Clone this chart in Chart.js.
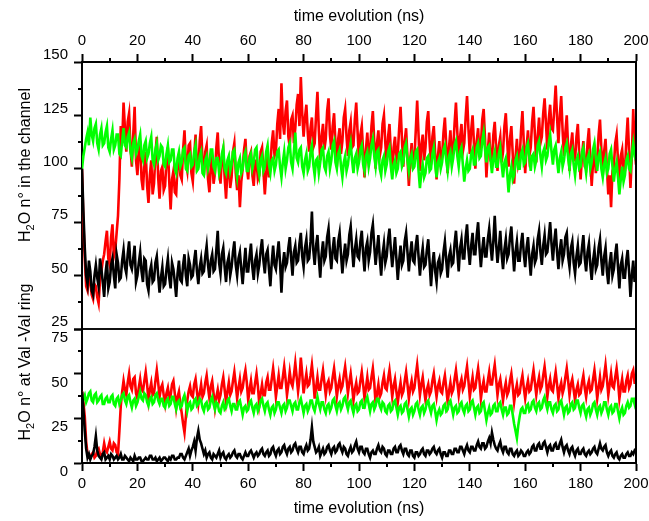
<!DOCTYPE html>
<html>
<head>
<meta charset="utf-8">
<script src="https://cdn.jsdelivr.net/npm/chart.js@4.4.1/dist/chart.umd.min.js"></script>
<style>
  body { margin: 0; background: #fff; }
  #wrap { position: relative; width: 649px; height: 521px; }
  canvas { position: absolute; left: 0; }
  #topChart { top: 0; }
  #botChart { top: 270px; }
</style>
</head>
<body>
<div id="wrap">
  <canvas id="topChart" width="649" height="335"></canvas>
  <canvas id="botChart" width="649" height="251"></canvas>
</div>
<script>
// one sample every 0.5 ns, t = 0..200
var STEP_NS = 0.5;
var xTicks = [0, 20, 40, 60, 80, 100, 120, 140, 160, 180, 200];

// H2O in the channel (top panel)
var channelBlack = [
  100, 80, 63, 50, 46, 57, 52, 43, 41, 50, 55, 49, 45, 58, 53, 47, 40, 51, 57, 44,
  47, 55, 58, 50, 44, 60, 56, 48, 49, 57, 62, 54, 51, 60, 66, 55, 53, 58, 64, 47,
  50, 56, 61, 52, 47, 58, 57, 46, 43, 52, 55, 47, 48, 56, 59, 50, 42, 49, 54, 45,
  46, 53, 58, 49, 44, 56, 53, 47, 40, 51, 57, 48, 47, 55, 60, 50, 45, 58, 55, 49,
  50, 57, 62, 52, 46, 54, 58, 51, 52, 59, 64, 55, 49, 57, 60, 52, 53, 62, 71, 56,
  51, 60, 63, 54, 47, 56, 59, 50, 54, 61, 66, 55, 50, 58, 61, 53, 46, 55, 63, 52,
  52, 59, 65, 54, 48, 57, 60, 51, 55, 62, 67, 57, 51, 60, 62, 53, 45, 56, 64, 55,
  53, 60, 66, 56, 42, 55, 61, 54, 56, 63, 68, 58, 50, 61, 64, 56, 57, 65, 70, 59,
  54, 63, 67, 57, 58, 66, 80, 62, 55, 64, 69, 58, 49, 60, 66, 57, 59, 68, 72, 61,
  53, 62, 68, 58, 57, 66, 70, 60, 51, 59, 65, 57, 60, 69, 73, 63, 54, 62, 67, 59,
  58, 66, 71, 60, 52, 63, 66, 57, 61, 70, 74, 64, 55, 62, 69, 58, 50, 60, 65, 56,
  59, 67, 72, 62, 54, 61, 68, 58, 48, 57, 64, 55, 57, 66, 70, 61, 52, 60, 66, 57,
  56, 64, 69, 59, 50, 58, 63, 54, 55, 62, 67, 56, 45, 55, 61, 52, 47, 56, 58, 51,
  53, 61, 66, 57, 49, 59, 62, 55, 56, 65, 71, 61, 52, 63, 67, 58, 58, 68, 74, 62,
  55, 64, 70, 60, 60, 69, 75, 63, 54, 62, 68, 59, 59, 67, 72, 64, 57, 66, 78, 65,
  56, 63, 71, 60, 53, 62, 67, 58, 60, 68, 73, 62, 52, 61, 66, 57, 57, 65, 70, 60,
  54, 63, 68, 58, 50, 60, 64, 56, 58, 67, 71, 61, 55, 64, 69, 60, 61, 68, 75, 65,
  57, 66, 72, 61, 53, 62, 67, 57, 60, 68, 70, 59, 54, 63, 66, 56, 51, 59, 64, 55,
  56, 63, 69, 58, 52, 61, 65, 55, 48, 57, 62, 53, 55, 63, 67, 57, 50, 59, 63, 52,
  46, 56, 61, 50, 53, 60, 65, 54, 44, 55, 58, 49, 49, 57, 62, 52, 40, 50, 57, 47,
  52
];
var channelRed = [
  100, 75, 58, 45, 43, 50, 47, 41, 39, 46, 45, 40, 37, 48, 52, 57, 60, 66, 71, 58,
  55, 68, 74, 59, 62, 70, 78, 95, 120, 112, 131, 119, 108, 122, 126, 110, 101, 116, 129, 104,
  97, 108, 113, 95, 90, 102, 108, 92, 84, 97, 104, 88, 93, 107, 115, 96, 86, 99, 101, 90,
  92, 104, 110, 94, 81, 95, 99, 89, 88, 102, 107, 97, 95, 109, 118, 103, 99, 111, 112, 98,
  94, 106, 116, 100, 101, 113, 120, 104, 97, 108, 111, 95, 89, 101, 106, 93, 98, 110, 117, 102,
  93, 105, 109, 96, 86, 99, 103, 91, 96, 108, 112, 98, 90, 97, 82, 94, 100, 109, 114, 101,
  95, 106, 108, 97, 92, 103, 104, 95, 97, 108, 110, 99, 88, 98, 106, 96, 101, 112, 118, 106,
  108, 121, 128, 114, 140, 122, 116, 127, 132, 115, 110, 123, 125, 112, 119, 130, 135, 120, 143, 126,
  115, 124, 130, 117, 108, 119, 124, 110, 112, 125, 136, 118, 104, 115, 121, 109, 114, 127, 133, 116,
  109, 120, 126, 112, 101, 114, 119, 107, 113, 124, 128, 115, 106, 118, 122, 110, 111, 123, 131, 117,
  104, 116, 120, 108, 96, 109, 117, 105, 108, 120, 127, 113, 100, 112, 118, 106, 110, 121, 125, 112,
  103, 115, 121, 108, 98, 110, 115, 104, 107, 119, 129, 114, 101, 113, 119, 105, 92, 104, 112, 100,
  105, 118, 132, 116, 99, 111, 116, 104, 110, 122, 127, 112, 102, 115, 120, 107, 95, 106, 113, 101,
  106, 117, 124, 111, 98, 110, 118, 105, 109, 121, 131, 117, 103, 115, 121, 108, 112, 124, 134, 119,
  107, 118, 125, 112, 100, 113, 119, 106, 111, 123, 128, 114, 96, 108, 117, 104, 104, 116, 122, 110,
  99, 111, 115, 103, 108, 120, 126, 113, 101, 114, 120, 107, 93, 105, 114, 102, 105, 118, 127, 112,
  98, 110, 118, 106, 110, 122, 129, 116, 103, 115, 124, 112, 115, 126, 133, 121, 109, 123, 130, 119,
  118, 128, 139, 124, 112, 125, 134, 118, 106, 117, 125, 110, 99, 111, 117, 104, 104, 115, 121, 107,
  95, 106, 113, 101, 100, 112, 119, 105, 92, 103, 110, 98, 104, 116, 123, 109, 97, 108, 114, 100,
  88, 97, 82, 99, 101, 112, 116, 104, 94, 106, 109, 98, 99, 113, 124, 108, 91, 106, 128, 110,
  102
];
var channelGreen = [
  100, 106, 110, 114, 117, 111, 124, 116, 113, 119, 121, 112, 109, 116, 119, 111, 112, 117, 120, 110,
  108, 114, 118, 109, 111, 116, 116, 107, 106, 113, 119, 111, 110, 115, 117, 108, 105, 112, 114, 107,
  109, 113, 116, 106, 104, 111, 113, 105, 107, 112, 115, 104, 102, 109, 112, 104, 106, 111, 110, 102,
  101, 107, 111, 103, 104, 109, 109, 100, 98, 105, 108, 101, 103, 109, 110, 100, 99, 106, 107, 101,
  102, 108, 111, 99, 100, 106, 108, 98, 97, 104, 106, 100, 103, 109, 109, 101, 99, 105, 105, 98,
  101, 107, 110, 100, 98, 104, 106, 99, 102, 108, 109, 101, 96, 103, 105, 98, 100, 106, 108, 99,
  99, 105, 107, 100, 103, 109, 110, 101, 97, 104, 106, 99, 101, 108, 111, 102, 98, 104, 105, 99,
  102, 108, 109, 101, 96, 103, 108, 100, 104, 110, 112, 103, 100, 108, 117, 105, 103, 109, 110, 101,
  98, 104, 107, 99, 101, 108, 111, 102, 97, 104, 105, 98, 103, 109, 110, 101, 99, 106, 108, 100,
  104, 111, 113, 103, 100, 107, 109, 101, 96, 103, 106, 99, 102, 108, 112, 104, 98, 105, 107, 100,
  103, 109, 111, 102, 99, 106, 108, 101, 105, 111, 114, 106, 101, 108, 109, 100, 97, 104, 106, 99,
  102, 108, 110, 101, 95, 102, 104, 98, 100, 107, 108, 101, 103, 110, 112, 104, 99, 105, 107, 100,
  101, 108, 109, 99, 91, 98, 102, 96, 98, 105, 106, 99, 100, 107, 110, 102, 96, 103, 105, 100,
  103, 109, 111, 104, 99, 106, 108, 101, 105, 111, 113, 106, 101, 108, 110, 102, 94, 100, 104, 99,
  100, 107, 109, 102, 102, 110, 112, 105, 106, 113, 117, 109, 103, 110, 111, 104, 98, 105, 108, 101,
  101, 107, 110, 102, 96, 103, 105, 98, 89, 97, 101, 95, 97, 104, 106, 100, 100, 107, 109, 102,
  103, 110, 112, 105, 99, 106, 107, 101, 104, 111, 113, 106, 101, 108, 110, 104, 106, 112, 116, 108,
  102, 109, 111, 104, 98, 105, 108, 101, 104, 110, 112, 105, 100, 107, 109, 102, 97, 104, 106, 100,
  101, 108, 110, 103, 98, 105, 107, 100, 103, 109, 112, 105, 99, 106, 108, 100, 96, 102, 105, 98,
  100, 107, 109, 101, 94, 100, 103, 96, 88, 95, 101, 94, 97, 104, 106, 100, 99, 107, 112, 106,
  104
];

// H2O at the Val-Val ring (bottom panel)
var ringBlack = [
  40, 30, 18, 8, 3, 5, 2, 4, 5, 9, 15, 7, 4, 3, 2, 5, 6, 2, 3, 4,
  2, 5, 4, 2, 3, 4, 2, 3, 5, 2, 2, 4, 3, 2, 1, 3, 2, 1, 4, 2,
  2, 3, 3, 1, 1, 2, 3, 2, 2, 4, 4, 2, 2, 3, 1, 2, 3, 1, 2, 3,
  3, 2, 1, 3, 2, 4, 4, 2, 2, 3, 3, 5, 5, 3, 2, 4, 6, 8, 4, 7,
  9, 12, 7, 14, 18, 13, 11, 8, 5, 7, 3, 5, 6, 3, 2, 5, 4, 3, 5, 7,
  3, 5, 6, 3, 2, 4, 5, 3, 4, 6, 7, 4, 3, 5, 5, 3, 2, 4, 6, 4,
  4, 6, 7, 5, 3, 5, 6, 4, 5, 7, 8, 5, 4, 6, 7, 4, 5, 8, 9, 6,
  4, 7, 8, 5, 6, 9, 10, 7, 5, 8, 9, 6, 7, 10, 11, 8, 6, 9, 9, 6,
  5, 8, 10, 7, 8, 13, 20, 12, 9, 6, 7, 9, 4, 6, 8, 5, 6, 9, 10, 7,
  5, 8, 9, 6, 7, 10, 11, 8, 6, 9, 8, 5, 4, 7, 9, 6, 7, 10, 12, 8,
  6, 9, 9, 6, 5, 8, 8, 5, 3, 6, 7, 5, 5, 8, 10, 7, 6, 9, 8, 5,
  4, 7, 7, 5, 5, 8, 9, 6, 6, 9, 10, 7, 5, 8, 8, 5, 4, 7, 7, 4,
  3, 6, 6, 4, 5, 7, 8, 5, 4, 7, 7, 5, 6, 8, 9, 6, 5, 7, 8, 5,
  3, 6, 6, 4, 4, 7, 7, 5, 5, 8, 8, 6, 6, 9, 9, 7, 5, 8, 10, 7,
  6, 9, 9, 7, 7, 10, 12, 9, 8, 11, 11, 8, 9, 12, 14, 11, 17, 13, 10, 8,
  7, 10, 12, 8, 6, 9, 9, 6, 5, 8, 8, 5, 4, 6, 7, 4, 5, 7, 6, 4,
  4, 6, 7, 5, 6, 9, 10, 7, 7, 10, 11, 8, 8, 11, 12, 9, 6, 9, 10, 7,
  7, 10, 11, 8, 8, 11, 13, 9, 6, 9, 10, 7, 5, 8, 9, 6, 4, 7, 8, 5,
  5, 7, 8, 5, 4, 6, 7, 5, 6, 8, 9, 6, 5, 8, 11, 8, 7, 9, 10, 6,
  4, 6, 7, 4, 3, 5, 6, 3, 2, 4, 5, 3, 3, 5, 6, 4, 4, 6, 5, 7,
  6
];
var ringRed = [
  40, 34, 26, 12, 5, 3, 3, 5, 6, 3, 4, 7, 8, 5, 3, 6, 11, 7, 6, 9,
  12, 8, 7, 11, 10, 6, 5, 18, 32, 40, 46, 41, 38, 45, 50, 43, 41, 47, 48, 39,
  36, 42, 47, 41, 40, 46, 51, 44, 35, 41, 45, 38, 39, 46, 52, 45, 37, 42, 44, 38,
  33, 39, 42, 36, 38, 44, 46, 39, 31, 37, 40, 33, 28, 22, 17, 26, 35, 40, 43, 38,
  37, 44, 47, 40, 33, 39, 44, 37, 39, 45, 49, 42, 36, 43, 46, 39, 31, 37, 41, 35,
  38, 44, 48, 41, 34, 40, 45, 38, 40, 46, 51, 44, 36, 42, 47, 40, 42, 48, 52, 45,
  35, 41, 46, 39, 39, 45, 50, 43, 33, 39, 44, 38, 38, 45, 48, 41, 41, 47, 53, 46,
  37, 43, 49, 42, 42, 48, 54, 47, 38, 44, 51, 45, 43, 49, 56, 48, 40, 47, 59, 50,
  39, 45, 50, 43, 44, 49, 55, 47, 36, 42, 48, 41, 41, 47, 52, 45, 38, 44, 46, 40,
  42, 48, 53, 46, 37, 43, 47, 41, 43, 49, 54, 47, 39, 45, 50, 43, 35, 41, 45, 39,
  40, 46, 51, 44, 36, 42, 48, 41, 42, 48, 53, 45, 33, 39, 44, 37, 39, 45, 49, 42,
  41, 47, 52, 45, 37, 43, 47, 40, 34, 40, 45, 38, 40, 46, 51, 44, 36, 42, 46, 40,
  42, 49, 55, 47, 38, 44, 48, 41, 35, 41, 44, 38, 40, 46, 50, 43, 37, 43, 46, 40,
  39, 45, 49, 42, 34, 40, 45, 39, 41, 47, 52, 45, 38, 44, 47, 41, 43, 49, 54, 46,
  37, 43, 48, 41, 42, 48, 53, 46, 36, 42, 46, 40, 40, 46, 51, 44, 44, 50, 55, 47,
  38, 44, 47, 41, 35, 41, 45, 38, 40, 46, 50, 43, 34, 40, 44, 38, 39, 45, 49, 42,
  36, 42, 46, 40, 41, 47, 52, 45, 38, 44, 48, 41, 43, 49, 54, 47, 37, 43, 47, 41,
  40, 46, 51, 44, 36, 42, 45, 39, 42, 48, 53, 46, 38, 44, 47, 41, 35, 41, 44, 38,
  39, 45, 49, 42, 37, 43, 46, 40, 41, 47, 52, 45, 36, 42, 48, 41, 43, 49, 55, 47,
  38, 44, 50, 43, 42, 48, 53, 46, 36, 42, 47, 40, 40, 46, 49, 42, 44, 50, 52, 45,
  45
];
var ringGreen = [
  33, 36, 38, 34, 36, 39, 40, 35, 34, 38, 39, 34, 35, 37, 38, 33, 33, 36, 37, 34,
  34, 37, 38, 33, 32, 36, 37, 33, 35, 38, 39, 35, 33, 37, 38, 34, 31, 35, 36, 32,
  34, 37, 40, 36, 35, 39, 38, 34, 32, 36, 37, 33, 34, 38, 39, 35, 33, 36, 36, 32,
  31, 35, 36, 32, 33, 37, 37, 33, 30, 34, 35, 31, 32, 36, 38, 34, 29, 33, 34, 30,
  31, 35, 36, 32, 33, 36, 35, 31, 29, 33, 34, 30, 31, 35, 37, 33, 30, 34, 33, 29,
  28, 32, 34, 30, 31, 35, 36, 32, 29, 33, 33, 30, 30, 34, 35, 31, 27, 31, 32, 29,
  30, 34, 35, 31, 28, 32, 33, 29, 31, 35, 36, 32, 29, 33, 34, 30, 27, 31, 32, 28,
  30, 34, 34, 31, 28, 32, 33, 29, 31, 35, 35, 32, 29, 33, 34, 30, 30, 34, 36, 32,
  28, 32, 33, 29, 31, 35, 35, 31, 29, 33, 37, 33, 30, 34, 34, 30, 28, 32, 33, 29,
  31, 35, 36, 32, 29, 33, 34, 30, 32, 36, 37, 33, 30, 34, 35, 31, 28, 32, 33, 29,
  30, 34, 35, 31, 31, 35, 37, 33, 29, 33, 34, 30, 32, 36, 36, 32, 30, 34, 33, 29,
  28, 32, 33, 29, 30, 34, 35, 31, 27, 31, 32, 28, 29, 33, 34, 30, 26, 30, 31, 27,
  29, 33, 34, 30, 27, 31, 32, 28, 30, 34, 35, 31, 28, 32, 33, 29, 24, 28, 30, 27,
  28, 32, 33, 29, 30, 34, 35, 31, 27, 31, 32, 28, 29, 33, 34, 30, 28, 32, 33, 29,
  30, 34, 35, 31, 27, 31, 32, 28, 29, 33, 34, 29, 24, 28, 31, 27, 28, 32, 33, 29,
  29, 33, 34, 30, 27, 31, 31, 27, 28, 32, 32, 27, 22, 18, 14, 21, 26, 30, 31, 28,
  28, 32, 33, 29, 30, 34, 35, 31, 29, 33, 34, 30, 31, 35, 37, 33, 30, 34, 34, 30,
  28, 32, 33, 29, 30, 34, 35, 31, 27, 31, 32, 28, 29, 33, 34, 30, 31, 35, 35, 31,
  28, 32, 33, 29, 26, 30, 31, 27, 29, 33, 34, 30, 27, 31, 32, 28, 30, 34, 34, 30,
  27, 31, 32, 28, 29, 33, 33, 29, 25, 29, 31, 27, 28, 32, 34, 31, 32, 36, 36, 33,
  37
];

var topYTicks = [25, 50, 75, 100, 125, 150];
var botYTicks = [0, 25, 50, 75];

var FONT = '"Liberation Sans", Arial, sans-serif';
var tickFont = { family: FONT, size: 15 };
var titleFont = { family: FONT, size: 16 };

function toPoints(values) {
    return values.map(function (v, i) { return { x: i * STEP_NS, y: v }; });
}

function lineSet(values, color) {
    return {
        data: toPoints(values),
        borderColor: color,
        borderWidth: 2.6,
        borderJoinStyle: 'miter',
        pointRadius: 0,
        tension: 0,
        fill: false
    };
}

// half-length ticks between the labelled ones
var minorTicks = {
    id: 'minorTicks',
    afterDraw: function (chart, args, opts) {
        var ctx = chart.ctx;
        ctx.save();
        ctx.strokeStyle = '#000';
        ctx.lineWidth = 2;
        (opts.axes || []).forEach(function (a) {
            var s = chart.scales[a.id];
            for (var v = s.min + a.step / 2; v < s.max; v += a.step) {
                var p = Math.round(s.getPixelForValue(v));
                ctx.beginPath();
                if (s.isHorizontal()) {
                    var y = s.position === 'top' ? s.bottom : s.top;
                    ctx.moveTo(p, y);
                    ctx.lineTo(p, y + (s.position === 'top' ? -4 : 4));
                } else {
                    ctx.moveTo(s.right, p);
                    ctx.lineTo(s.right - 4, p);
                }
                ctx.stroke();
            }
        });
        // closing frame on the right and between the panels
        var ca = chart.chartArea;
        ctx.lineWidth = 2;
        ctx.beginPath();
        ctx.moveTo(ca.right, ca.top);
        ctx.lineTo(ca.right, ca.bottom);
        ctx.stroke();
        ctx.lineWidth = 1.5;
        ctx.beginPath();
        var ey = opts.edge === 'bottom' ? ca.bottom : ca.top;
        ctx.moveTo(ca.left, ey);
        ctx.lineTo(ca.right, ey);
        ctx.stroke();
        ctx.restore();
    }
};

// rotated y title with a real subscript in H2O
var yTitle = {
    id: 'yTitle',
    afterDraw: function (chart, args, opts) {
        var ctx = chart.ctx;
        var big = '16px ' + FONT;
        var small = '11px ' + FONT;
        var parts = [['H', big, 0], ['2', small, 4], [opts.rest, big, 0]];
        ctx.save();
        ctx.translate(opts.x, opts.y);
        ctx.rotate(-Math.PI / 2);
        ctx.fillStyle = '#000';
        ctx.textBaseline = 'alphabetic';
        var w = 0;
        parts.forEach(function (p) { ctx.font = p[1]; w += ctx.measureText(p[0]).width; });
        var cx = -w / 2;
        parts.forEach(function (p) {
            ctx.font = p[1];
            ctx.fillText(p[0], cx, p[2]);
            cx += ctx.measureText(p[0]).width;
        });
        ctx.restore();
    }
};

function xAxis(position, height, titlePad) {
    return {
        type: 'linear',
        position: position,
        min: xTicks[0],
        max: xTicks[xTicks.length - 1],
        ticks: { stepSize: xTicks[1] - xTicks[0], color: '#000', font: tickFont, padding: 4, maxRotation: 0 },
        grid: { drawOnChartArea: false, tickLength: 8, tickWidth: 2, tickColor: '#000' },
        border: { color: '#000', width: 2 },
        title: { display: true, text: 'time evolution (ns)', color: '#000', font: titleFont, padding: titlePad },
        afterFit: function (s) { s.height = height; s.paddingLeft = 0; s.paddingRight = 0; }
    };
}

function yAxis(ticks, labelOffset) {
    return {
        type: 'linear',
        position: 'left',
        min: ticks[0],
        max: ticks[ticks.length - 1],
        ticks: { stepSize: ticks[1] - ticks[0], color: '#000', font: tickFont, padding: 6, labelOffset: labelOffset },
        grid: { drawOnChartArea: false, tickLength: 8, tickWidth: 2, tickColor: '#000' },
        border: { color: '#000', width: 2 },
        afterFit: function (s) { s.width = 82; s.paddingTop = 0; s.paddingBottom = 0; }
    };
}

var topChart = new Chart(document.getElementById('topChart'), {
    type: 'line',
    data: {
        datasets: [
            lineSet(channelBlack, '#000000'),
            lineSet(channelGreen, '#00ff00'),
            lineSet(channelRed, '#ff0000')
        ]
    },
    options: {
        responsive: false,
        animation: false,
        events: [],
        layout: { padding: { left: 0, right: 13, top: 0, bottom: 6 } },
        scales: {
            x: xAxis('top', 62, { top: 7, bottom: 0 }),
            y: yAxis(topYTicks, -7)
        },
        plugins: {
            legend: { display: false },
            tooltip: { enabled: false },
            minorTicks: { axes: [{ id: 'x', step: 20 }, { id: 'y', step: 25 }], edge: 'bottom' },
            yTitle: { x: 30, y: 165, rest: 'O n\u00b0 in the channel' }
        }
    },
    plugins: [minorTicks, yTitle]
});

var botChart = new Chart(document.getElementById('botChart'), {
    type: 'line',
    data: {
        datasets: [
            lineSet(ringBlack, '#000000'),
            lineSet(ringGreen, '#00ff00'),
            lineSet(ringRed, '#ff0000')
        ]
    },
    options: {
        responsive: false,
        animation: false,
        events: [],
        layout: { padding: { left: 0, right: 13, top: 59, bottom: 0 } },
        scales: {
            x: xAxis('bottom', 58, { top: 0, bottom: 3 }),
            y: yAxis(botYTicks, 9)
        },
        plugins: {
            legend: { display: false },
            tooltip: { enabled: false },
            minorTicks: { axes: [{ id: 'x', step: 20 }, { id: 'y', step: 25 }], edge: 'top' },
            yTitle: { x: 30, y: 92, rest: 'O n\u00b0 at Val -Val ring' }
        }
    },
    plugins: [minorTicks, yTitle]
});
</script>
</body>
</html>
